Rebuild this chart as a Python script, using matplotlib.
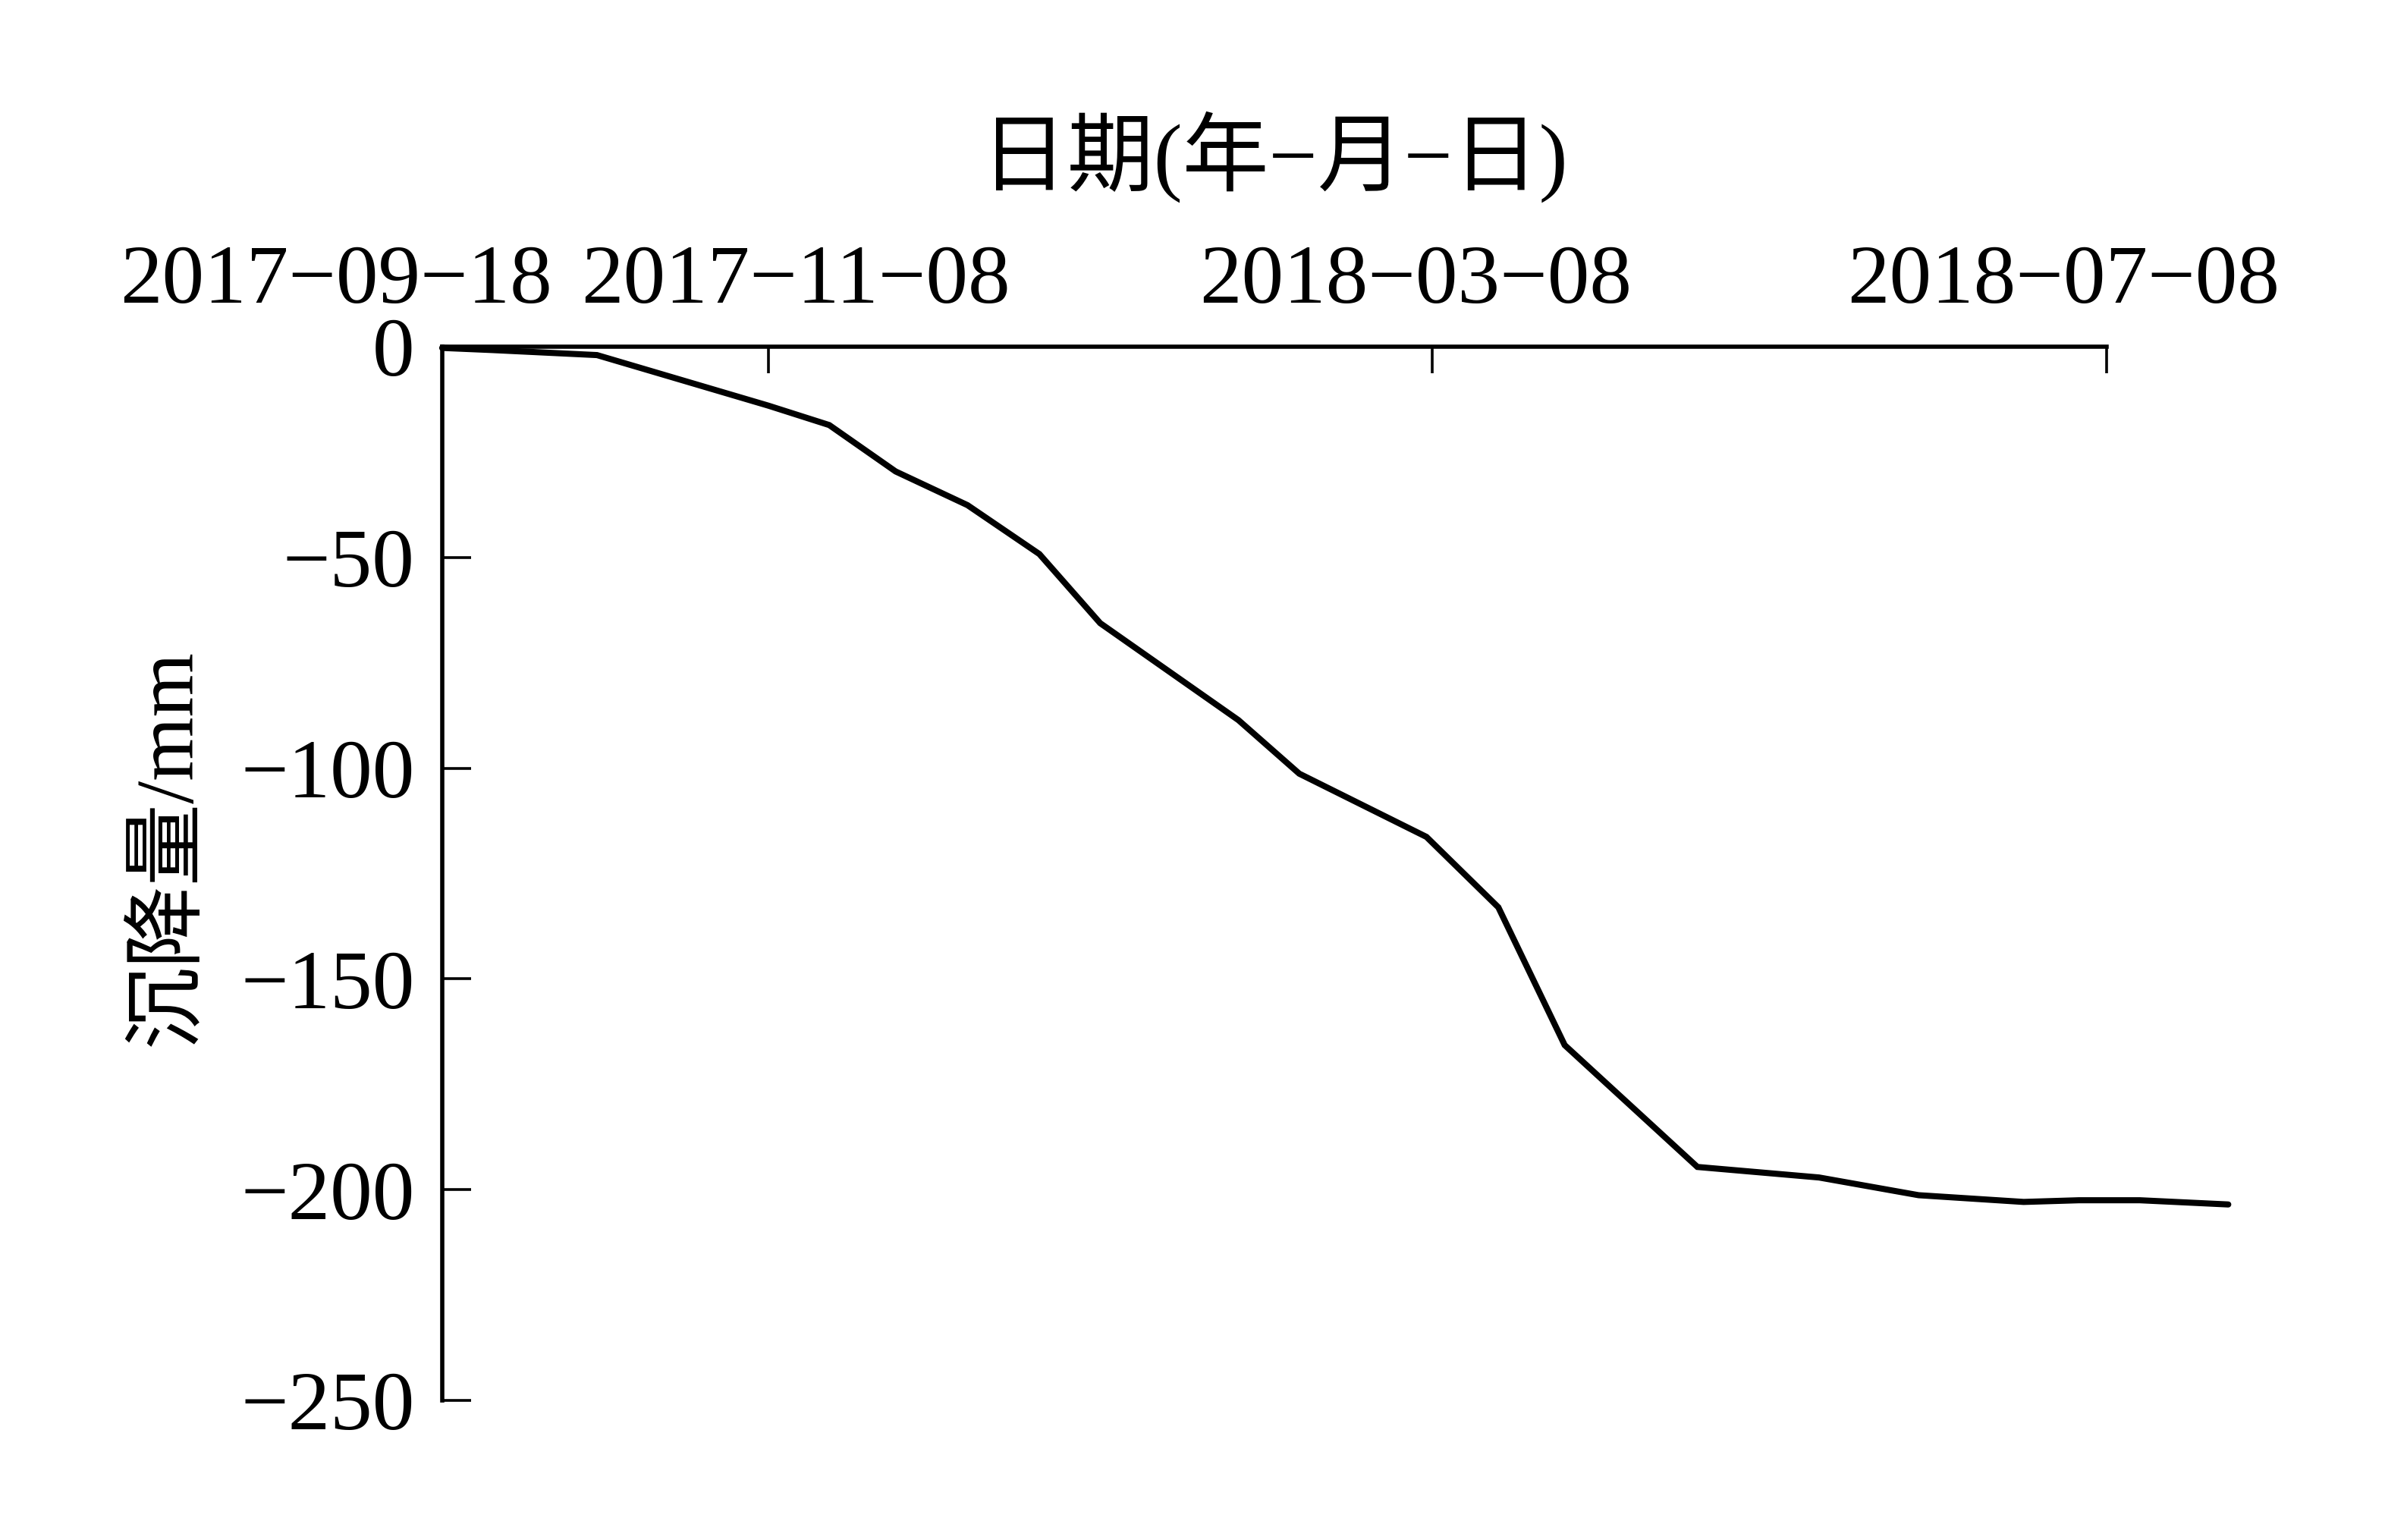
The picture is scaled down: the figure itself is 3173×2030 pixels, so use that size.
import matplotlib
matplotlib.use('Agg')
import matplotlib.pyplot as plt
import matplotlib.transforms as mtransforms
import numpy as np

dates = np.array(['2017-09-10', '2017-09-19', '2017-10-08', '2017-11-08', '2017-11-19',
                  '2017-12-01', '2017-12-14', '2017-12-27', '2018-01-07', '2018-02-01',
                  '2018-02-12', '2018-03-07', '2018-03-20', '2018-04-01', '2018-04-25',
                  '2018-05-17', '2018-06-04', '2018-06-23', '2018-07-03', '2018-07-14',
                  '2018-07-30'], dtype='datetime64[D]')
settlement = [-0.3, -0.8, -2.0, -14.0, -18.6, -29.6, -37.6, -49.2, -65.6, -88.6,
              -101.3, -116.3, -133.0, -165.7, -194.6, -197.1, -201.3, -202.9, -202.5,
              -202.5, -203.5]

x_start = np.datetime64('2017-09-10')
x_end = np.datetime64('2018-07-08')
tick_dates = np.array(['2017-09-10', '2017-11-08', '2018-03-08', '2018-07-08'],
                      dtype='datetime64[D]')
tick_labels = ['2017\u221209\u221218', '2017\u221211\u221208',
               '2018\u221203\u221208', '2018\u221207\u221208']
y_ticks = [0, -50, -100, -150, -200, -250]
y_labels = ['0', '\u221250', '\u2212100', '\u2212150', '\u2212200', '\u2212250']

fonts = ['Liberation Serif', 'Noto Sans CJK SC']
plt.rcParams['font.family'] = fonts
plt.rcParams['font.size'] = 80

fig = plt.figure(figsize=(31.73, 20.30), dpi=100)
ax = fig.add_axes([0.1837, 0.0906, 0.6915, 0.6843])

ax.plot(dates, settlement, color='black', lw=5.8, clip_on=False,
        solid_capstyle='round', solid_joinstyle='miter')

ax.set_xlim(x_start, x_end)
ax.set_ylim(-250, 0)

ax.xaxis.tick_top()
ax.xaxis.set_label_position('top')
ax.set_xticks(list(tick_dates))
ax.set_xticklabels(tick_labels)
ax.set_yticks(y_ticks)
ax.set_yticklabels(y_labels)

ax.tick_params(axis='x', direction='in', length=25, width=2.6, pad=25, labelsize=80)
ax.tick_params(axis='y', direction='in', length=27, width=2.6, pad=26, labelsize=80)

for s in ['right', 'bottom']:
    ax.spines[s].set_visible(False)
ax.spines['top'].set_linewidth(4)
ax.spines['left'].set_linewidth(4)

# tick labels in the original are nudged sideways (inches)
shifts = [-1.40, 0.36, -0.22, -0.57]
for lab, dx in zip(ax.get_xticklabels(), shifts):
    lab.set_transform(lab.get_transform() +
                      mtransforms.ScaledTranslation(dx, 0, fig.dpi_scale_trans))

ax.set_xlabel('日期(年\u2212月\u2212日)', fontsize=82, labelpad=58)
ax.set_ylabel('沉降量/mm', fontsize=78)
ax.yaxis.set_label_coords(-0.141, 0.525)

fig.savefig('out.png', dpi=100, facecolor='white')
